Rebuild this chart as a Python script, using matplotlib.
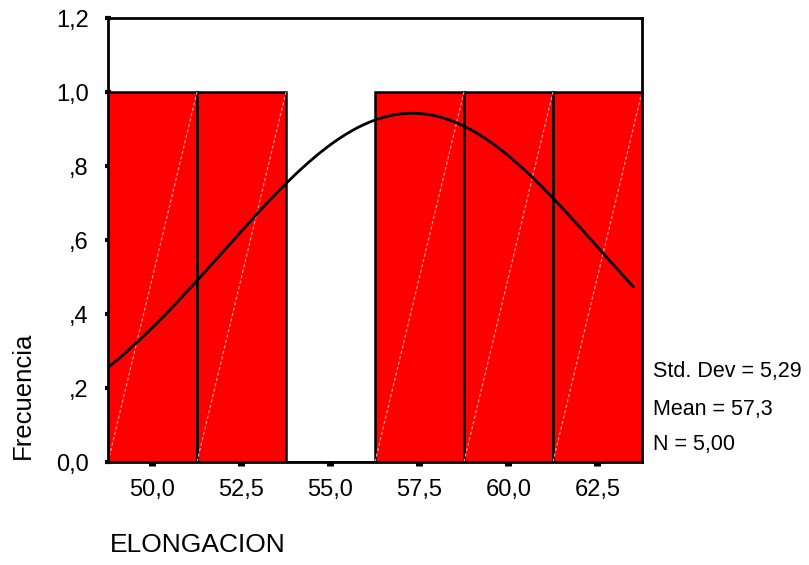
import numpy as np
import matplotlib.pyplot as plt
from matplotlib.ticker import FuncFormatter

# histogram data
bin_centers = [50.0, 52.5, 55.0, 57.5, 60.0, 62.5]
counts = [1, 1, 0, 1, 1, 1]
bin_width = 2.5

# summary stats shown at the right
std_dev = 5.29
mean = 57.3
n = 5.00
curve_end = 63.5

x_ticks = [50.0, 52.5, 55.0, 57.5, 60.0, 62.5]
y_ticks = [0.0, 0.2, 0.4, 0.6, 0.8, 1.0, 1.2]


def comma_fmt(v, pos=None, digits=1):
    s = f"{v:.{digits}f}".replace(".", ",")
    if 0 < abs(v) < 1:
        s = s.replace("0,", ",", 1)
    return s


plt.rcParams['font.family'] = ['Liberation Sans', 'DejaVu Sans']

fig = plt.figure(figsize=(8.09, 5.65), dpi=100)
ax = fig.add_axes([0.1335, 0.1823, 0.66, 0.7858])

ax.bar(bin_centers, counts, width=bin_width, color='#ff0000',
       edgecolor='black', linewidth=1.8, zorder=2)

# faint diagonal line inside each bar (SPSS look)
for c, h in zip(bin_centers, counts):
    if h > 0:
        ax.plot([c - bin_width / 2, c + bin_width / 2], [0, h],
                color='#ffa0a0', lw=0.8, ls=(0, (3, 2)), zorder=3)

# normal curve from the reported stats
lo = bin_centers[0] - bin_width / 2
xs = np.linspace(lo, curve_end, 200)
ys = n * bin_width / (std_dev * np.sqrt(2 * np.pi)) * np.exp(-0.5 * ((xs - mean) / std_dev) ** 2)
ax.plot(xs, ys, color='black', lw=2, zorder=4)

ax.set_xlim(lo, bin_centers[-1] + bin_width / 2)
ax.set_ylim(0, 1.2)
ax.set_xticks(x_ticks)
ax.set_yticks(y_ticks)
ax.xaxis.set_major_formatter(FuncFormatter(comma_fmt))
ax.yaxis.set_major_formatter(FuncFormatter(comma_fmt))
ax.tick_params(axis='x', direction='out', length=3, width=5, pad=9, labelsize=17)
ax.tick_params(axis='y', direction='inout', length=4, width=3, pad=12, labelsize=17)
for sp in ax.spines.values():
    sp.set_linewidth(2)
    sp.set_zorder(5)

fig.text(0.0285, 0.187, "Frecuencia", rotation=90, fontsize=18.5,
         ha='center', va='bottom')
fig.text(0.136, 0.023, "ELONGACION", fontsize=19, ha='left', va='baseline')

stats_x = 653 / 809
fig.text(stats_x, 1 - 377 / 565, f"Std. Dev = {comma_fmt(std_dev, digits=2)}",
         fontsize=15.5, ha='left', va='baseline')
fig.text(stats_x, 1 - 415 / 565, f"Mean = {comma_fmt(mean)}",
         fontsize=15.5, ha='left', va='baseline')
fig.text(stats_x, 1 - 450 / 565, f"N = {comma_fmt(n, digits=2)}",
         fontsize=15.5, ha='left', va='baseline')

fig.savefig("out.png", dpi=100)
